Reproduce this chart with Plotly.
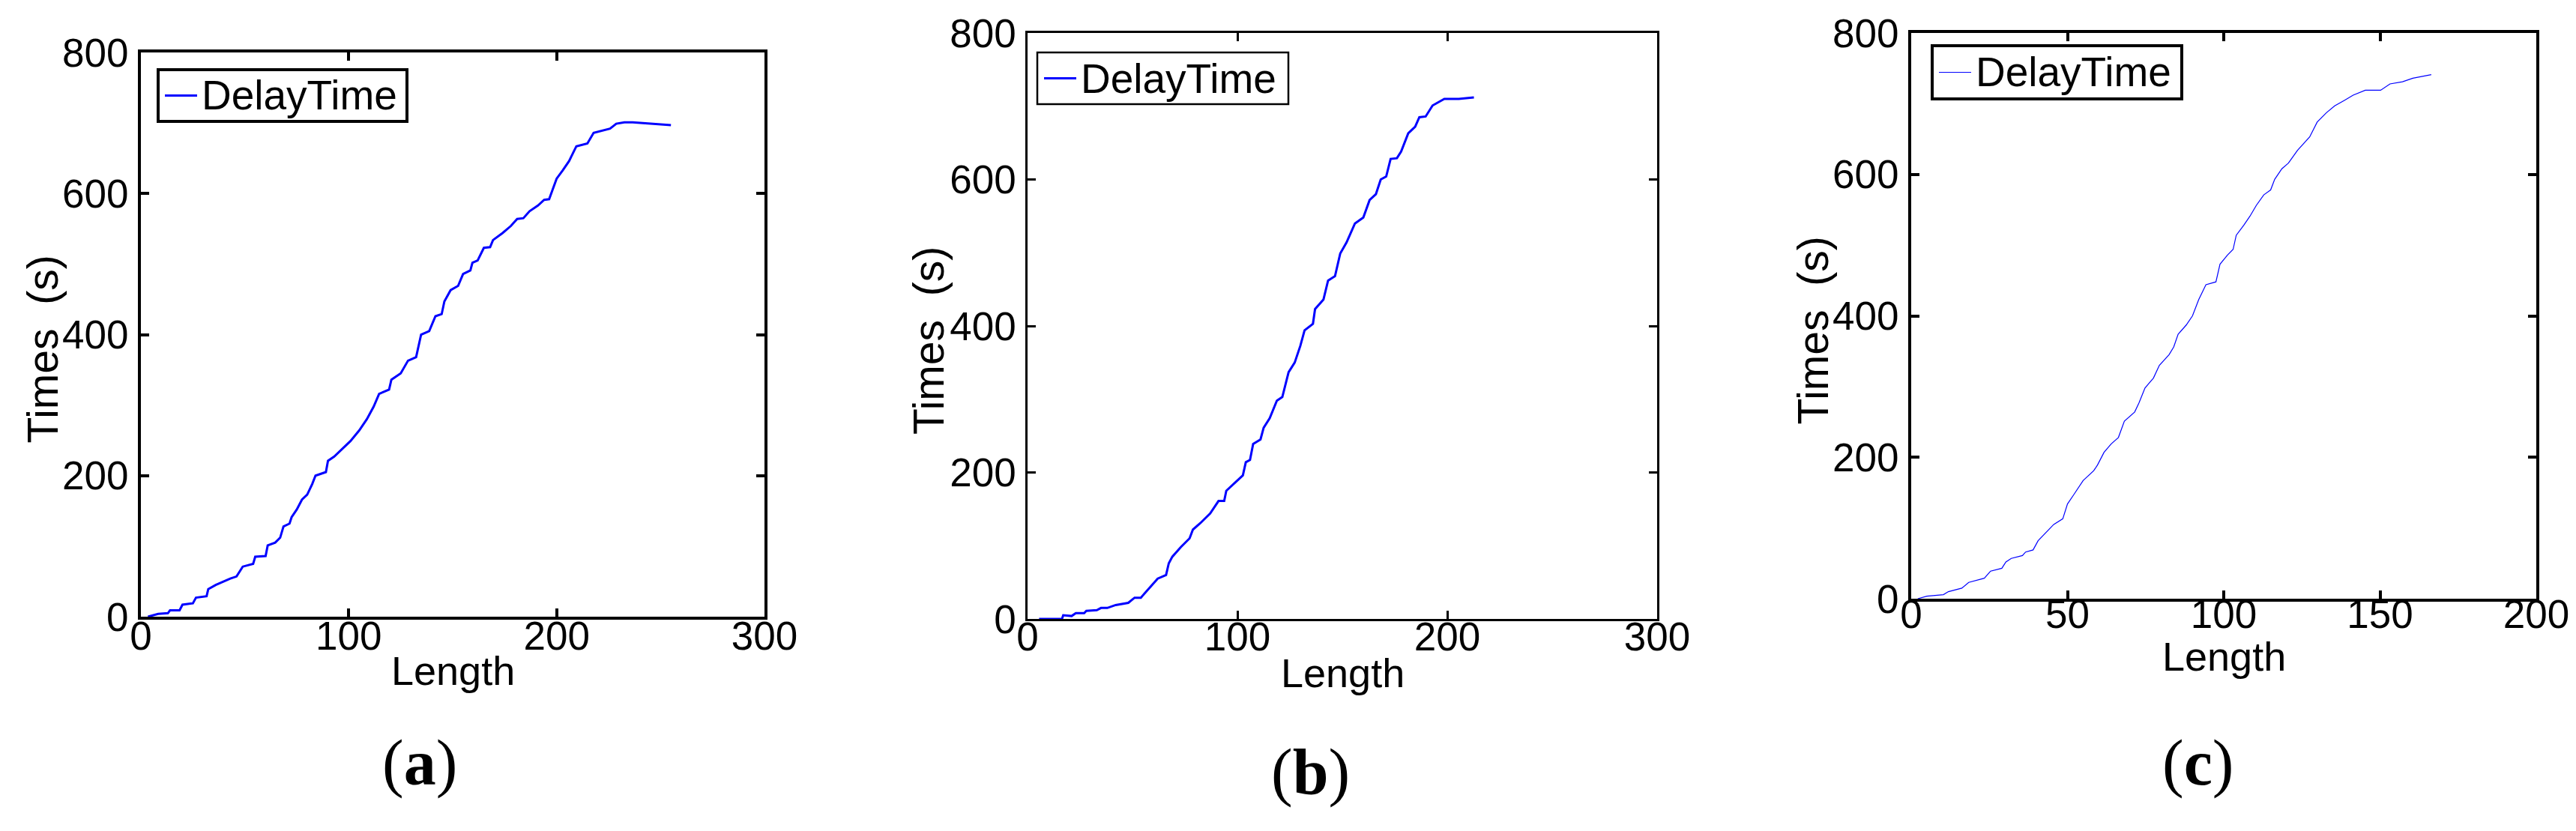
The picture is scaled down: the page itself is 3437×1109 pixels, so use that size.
import plotly.graph_objects as go
from plotly.subplots import make_subplots

# (a)
a_length = [3.4, 8.3, 13, 14, 18.6, 20, 25, 26.5, 31.6, 32.4, 36, 39, 43, 46, 49, 54, 55, 60, 61, 64.6,
            67, 68.6, 71.5, 72.5, 75, 77.5, 80, 82.4, 84, 89, 90, 93, 97, 100.8, 105, 108.7, 112, 114.6,
            119.4, 120.5, 125, 128.5, 132.4, 134.8, 138.7, 141.7, 144.7, 146, 149, 152.6, 155, 158.5,
            159.5, 162, 165, 168, 169.4, 174, 178, 181, 184, 187, 191, 194, 196.4, 198, 200, 203, 206,
            209.5, 214.8, 217.8, 220.8, 225.7, 228.7, 232.6, 236.6, 245.5, 255]
a_time = [0, 4, 5, 9, 9, 17, 19, 27, 29, 39, 45, 49, 54, 57, 71, 75, 85, 86, 101, 105,
          112, 128, 132, 141, 152, 166, 173, 188, 200, 205, 221, 227, 238, 249, 264, 280, 298, 316,
          322, 336, 345, 363, 368, 400, 405, 426, 429, 447, 463, 469, 486, 491,
          502, 505, 523, 524, 534, 544, 554, 564, 565, 575, 583, 591, 592, 604, 621, 633, 646,
          667, 671, 686, 688, 692, 699, 701, 701, 699, 697]

# (b)
b_length = [5.5, 16.4, 17, 21, 23, 27, 28, 33, 35, 38, 42, 48, 51, 54, 58.6, 62, 66, 67.3, 69, 73,
            77.2, 78.8, 82.4, 87, 91, 93.7, 94.7, 100.6, 102.6, 104, 106, 107.5, 111, 112.5, 115.4,
            118.8, 121.4, 124.4, 127.3, 130, 132, 136, 137, 141, 143.2, 146.5, 149, 152, 156, 160,
            163, 166, 168.3, 170.9, 173, 176, 178, 181.4, 184.7, 186.7, 189.7, 193, 198.6, 205.5, 212.7]
b_time = [0, 0, 5, 4, 8, 8, 11, 12, 15, 15, 19, 22, 29, 29, 44, 55, 60, 76, 85, 98,
          110, 122, 131, 144, 161, 161, 175, 190, 196, 214, 217, 239, 245, 261, 274,
          298, 303, 337, 350, 373, 394, 403, 423, 436, 462, 468, 499, 514, 540, 548,
          572, 580, 600, 604, 628, 629, 638, 663, 672, 685, 686, 701, 710, 710, 712]

# (c)
c_length = [2.1, 5, 10.3, 11.9, 16.2, 18.4, 23.4, 25.4, 29, 30.3, 32, 35.6, 36.6, 39, 40.6, 43, 45.6,
            48.5, 50, 52, 55, 58.4, 59.6, 61.7, 64, 66.3, 68.2, 71.5, 72.9, 74.8, 77.5, 79.4, 82.5, 84,
            85.4, 88, 90, 92, 94.3, 97.5, 98.8, 101.2, 103, 104, 106.4, 108.4, 110.4, 112.8, 115,
            116.3, 118.6, 120.7, 123.6, 127.5, 129.9, 132.8, 135.5, 138.7, 141.4, 145.3, 150.2,
            153.2, 157.2, 160.5, 166.4]
c_time = [0, 3.6, 5.7, 10, 15, 23, 29, 39, 43, 52, 57, 61, 66, 69, 82, 93, 105,
          113, 134, 147, 167, 181, 189, 207, 219, 228, 251, 264, 277, 298, 312, 330, 345, 356,
          374, 387, 400, 423, 444, 448, 473, 486, 494, 514, 528, 541, 556, 571, 578,
          593, 608, 616, 634, 653, 674, 687, 697, 705, 712, 719, 719,
          728, 731, 736, 741]

x_ranges = [[0, 300], [0, 300], [0, 200]]
x_ticks = [[0, 100, 200, 300], [0, 100, 200, 300], [0, 50, 100, 150, 200]]
y_ticks = [0, 200, 400, 600, 800]
panel_labels = ["a", "b", "c"]
series_name = "DelayTime"

W, H = 3437, 1109
FONT = "Liberation Sans, Arial, sans-serif"
BLUE = "#0000ff"

# plot boxes in pixels: left, right, top, bottom
boxes = [(180, 1012, 62, 815), (1363, 2203, 36, 818), (2542, 3376, 36, 791)]
frame_w = [4, 2.5, 4]
curve_w = [3, 3, 1.2]
# legend boxes: left, top, width, height
legend_box = [(203, 85, 332, 69), (1376, 62, 335, 69), (2570, 53, 333, 71)]
xtick_standoff = [-24, -24, -29]
xtitle_gap = [72, 72, 77]
label_pos = [(552, 1010), (1740, 1022), (2924, 1010)]


def px(x):
    return x / W


def py(y):
    return 1 - y / H


fig = make_subplots(rows=1, cols=3)

series = [(a_length, a_time), (b_length, b_time), (c_length, c_time)]

for i, (xs, ys) in enumerate(series):
    fig.add_trace(
        go.Scatter(
            x=xs,
            y=ys,
            mode="lines",
            name=series_name,
            line=dict(color=BLUE, width=curve_w[i]),
            showlegend=False,
        ),
        row=1,
        col=i + 1,
    )

annotations = []
shapes = []
for i, (l, r, t, b) in enumerate(boxes):
    axis_style = dict(
        showline=True,
        mirror="ticks",
        linecolor="black",
        linewidth=frame_w[i],
        ticks="inside",
        ticklen=11,
        tickwidth=frame_w[i],
        tickcolor="black",
        showgrid=False,
        zeroline=False,
        automargin=False,
        tickfont=dict(family=FONT, size=53, color="black"),
    )
    fig.update_xaxes(
        domain=[px(l), px(r)],
        range=x_ranges[i],
        tickvals=x_ticks[i],
        ticklabelstandoff=xtick_standoff[i],
        row=1,
        col=i + 1,
        **axis_style,
    )
    fig.update_yaxes(
        domain=[py(b), py(t)],
        range=[0, 800],
        tickvals=y_ticks,
        ticklabelstandoff=2,
        row=1,
        col=i + 1,
        **axis_style,
    )

    annotations.append(dict(
        text="Times\u00a0\u00a0(s)", textangle=-90,
        x=px(l - 132), y=py((t + b) / 2 + 20), xref="paper", yref="paper",
        xanchor="center", yanchor="middle", showarrow=False,
        font=dict(family=FONT, size=57, color="black"),
    ))
    annotations.append(dict(
        text="Length",
        x=px((l + r) / 2), y=py(b + xtitle_gap[i]), xref="paper", yref="paper",
        xanchor="center", yanchor="middle", showarrow=False,
        font=dict(family=FONT, size=54, color="black"),
    ))
    lbx, lby = label_pos[i]
    annotations.append(dict(
        text="(<b>" + panel_labels[i] + "</b>)",
        x=px(lbx), y=py(lby), xref="paper", yref="paper",
        xanchor="center", yanchor="middle", showarrow=False,
        font=dict(family="Liberation Serif, Times New Roman, serif", size=86, color="black"),
    ))

    # MATLAB-style legend box
    lx, ly, lw, lh = legend_box[i]
    shapes.append(dict(
        type="rect", xref="paper", yref="paper",
        x0=px(lx), x1=px(lx + lw), y0=py(ly + lh), y1=py(ly),
        line=dict(color="black", width=frame_w[i]), fillcolor="white",
    ))
    shapes.append(dict(
        type="line", xref="paper", yref="paper",
        x0=px(lx + 9), x1=px(lx + 52), y0=py(ly + lh / 2), y1=py(ly + lh / 2),
        line=dict(color=BLUE, width=curve_w[i]),
    ))
    annotations.append(dict(
        text=series_name,
        x=px(lx + 56), y=py(ly + lh / 2), xref="paper", yref="paper",
        xanchor="left", yanchor="middle", showarrow=False,
        font=dict(family=FONT, size=55, color="black"),
    ))

fig.update_layout(
    width=W,
    height=H,
    margin=dict(l=0, r=0, t=0, b=0),
    paper_bgcolor="white",
    plot_bgcolor="white",
    showlegend=False,
    annotations=annotations,
    shapes=shapes,
)

fig.write_html("out.html")
